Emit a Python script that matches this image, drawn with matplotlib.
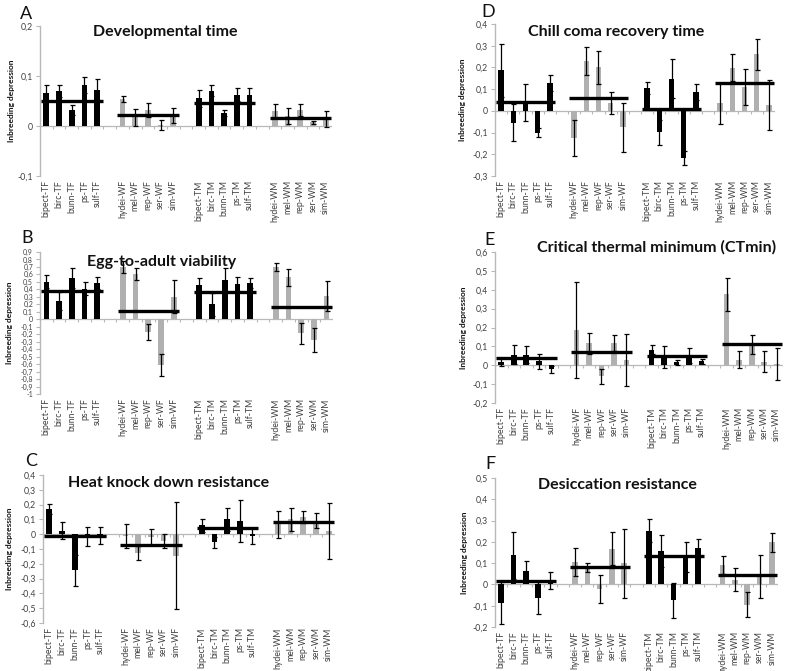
import matplotlib
matplotlib.use('Agg')
import matplotlib.pyplot as plt
from matplotlib.ticker import FuncFormatter, MultipleLocator

plt.rcParams['font.family'] = ['Lato', 'DejaVu Sans']

labels = ['bipect-TF', 'birc-TF', 'bunn-TF', 'ps-TF', 'sulf-TF',
          'hydei-WF', 'mel-WF', 'rep-WF', 'ser-WF', 'sim-WF',
          'bipect-TM', 'birc-TM', 'bunn-TM', 'ps-TM', 'sulf-TM',
          'hydei-WM', 'mel-WM', 'rep-WM', 'ser-WM', 'sim-WM']
groups = ['TF', 'WF', 'TM', 'WM']

A_vals = [0.065, 0.069, 0.032, 0.082, 0.073, 0.054, 0.018, 0.033, 0.002, 0.022,
          0.055, 0.071, 0.027, 0.062, 0.061, 0.030, 0.020, 0.032, 0.008, 0.014]
A_err = [0.016, 0.012, 0.010, 0.016, 0.020, 0.006, 0.017, 0.014, 0.010, 0.015,
         0.016, 0.011, 0.006, 0.013, 0.015, 0.014, 0.016, 0.012, 0.003, 0.016]
A_means = [0.051, 0.022, 0.046, 0.016]

B_vals = [0.50, 0.24, 0.55, 0.41, 0.487, 0.70, 0.60, -0.17, -0.61, 0.30,
          0.46, 0.20, 0.53, 0.474, 0.483, 0.70, 0.56, -0.19, -0.28, 0.31]
B_err = [0.087, 0.12, 0.13, 0.09, 0.083, 0.085, 0.08, 0.11, 0.15, 0.22,
         0.09, 0.15, 0.15, 0.09, 0.07, 0.05, 0.11, 0.14, 0.16, 0.20]
B_means = [0.374, 0.104, 0.365, 0.16]

C_vals = [0.169, 0.025, -0.243, -0.017, -0.007, -0.011, -0.128, -0.018, -0.043, -0.144,
          0.060, -0.056, 0.100, 0.089, -0.009, 0.067, 0.100, 0.117, 0.090, 0.020]
C_err = [0.034, 0.058, 0.105, 0.066, 0.056, 0.080, 0.045, 0.056, 0.047, 0.363,
         0.045, 0.040, 0.080, 0.145, 0.054, 0.092, 0.080, 0.043, 0.050, 0.188]
C_means = [-0.015, -0.074, 0.045, 0.083]

D_vals = [0.186, -0.055, 0.040, -0.100, 0.130, -0.125, 0.230, 0.200, 0.035, -0.075,
          0.106, -0.098, 0.148, -0.217, 0.086, 0.034, 0.199, 0.111, 0.260, 0.029]
D_err = [0.120, 0.085, 0.085, 0.022, 0.037, 0.083, 0.065, 0.077, 0.050, 0.113,
         0.028, 0.057, 0.090, 0.033, 0.038, 0.094, 0.063, 0.083, 0.072, 0.115]
D_means = [0.040, 0.057, 0.008, 0.126]

E_vals = [0.018, 0.055, 0.055, 0.022, -0.022, 0.187, 0.116, -0.058, 0.118, 0.027,
          0.083, 0.045, 0.015, 0.052, 0.020, 0.375, 0.030, 0.110, 0.018, 0.007]
E_err = [0.020, 0.050, 0.045, 0.040, 0.018, 0.253, 0.055, 0.040, 0.040, 0.138,
         0.022, 0.058, 0.012, 0.038, 0.014, 0.089, 0.047, 0.050, 0.055, 0.086]
E_means = [0.036, 0.071, 0.050, 0.112]

F_vals = [-0.087, 0.136, 0.062, -0.064, 0.018, 0.105, 0.080, -0.020, 0.168, 0.099,
          0.253, 0.156, -0.075, 0.130, 0.172, 0.090, 0.023, -0.095, 0.038, 0.198]
F_err = [0.097, 0.110, 0.047, 0.077, 0.040, 0.066, 0.023, 0.065, 0.077, 0.161,
         0.055, 0.074, 0.082, 0.070, 0.042, 0.043, 0.053, 0.058, 0.100, 0.045]
F_means = [0.017, 0.083, 0.134, 0.046]

titles = {'A': 'Developmental time', 'B': 'Egg-to-adult viability',
          'C': 'Heat knock down resistance', 'D': 'Chill coma recovery time',
          'E': 'Critical thermal minimum (CTmin)', 'F': 'Desiccation resistance'}
ylims = {'A': (-0.1, 0.2), 'B': (-1.0, 0.9), 'C': (-0.6, 0.4),
         'D': (-0.3, 0.4), 'E': (-0.2, 0.6), 'F': (-0.2, 0.5)}
data = {'A': (A_vals, A_err, A_means), 'B': (B_vals, B_err, B_means),
        'C': (C_vals, C_err, C_means), 'D': (D_vals, D_err, D_means),
        'E': (E_vals, E_err, E_means), 'F': (F_vals, F_err, F_means)}

W, H = 787, 671
# pixel layout: (left, top, right, bottom)
rects = {'A': (40, 26, 332, 176), 'B': (40, 252, 333, 394), 'C': (43, 475, 335, 623),
         'D': (495, 24, 775, 176), 'E': (495, 252, 783, 403), 'F': (495, 478, 778, 627)}
title_pos = {'A': (165, 32), 'B': (162, 262), 'C': (169, 483),
             'D': (616, 32), 'E': (657, 247), 'F': (617, 485)}
letter_pos = {'A': (26, 14), 'B': (27, 238), 'C': (31, 461),
              'D': (488, 12), 'E': (490, 240), 'F': (490, 464)}
ylab_x = {'A': 12, 'B': 10, 'C': 10, 'D': 463, 'E': 464, 'F': 465}
ytick_size = {'A': 6.3, 'B': 5.0, 'C': 6.3, 'D': 6.3, 'E': 6.3, 'F': 6.3}

BLACK = '#000000'
GRAY = '#b0b0b0'
AXGRAY = '#b8b8b8'
TXT = '#404040'

def fmt(v, pos):
    if abs(v) < 1e-9:
        return '0'
    s = ('%.1f' % v)
    if s.endswith('.0'):
        s = s[:-2]
    return s.replace('.', ',')

fig = plt.figure(figsize=(W / 100, H / 100), dpi=100)
positions = [i + i // 5 for i in range(len(labels))]

for key in ['A', 'B', 'C', 'D', 'E', 'F']:
    l, t, r, b = rects[key]
    ax = fig.add_axes([l / W, 1 - b / H, (r - l) / W, (b - t) / H])
    vals, errs, means = data[key]
    colors = [BLACK if (i // 5) % 2 == 0 else GRAY for i in range(len(labels))]
    ax.bar(positions, vals, width=0.45, color=colors, zorder=2)
    ax.errorbar(positions, vals, yerr=errs, fmt='none', ecolor='black',
                elinewidth=0.9, capsize=1.8, capthick=0.9, zorder=3)
    for g, m in enumerate(means):
        x0 = positions[g * 5] - 0.4
        x1 = positions[g * 5 + 4] + 0.45
        ax.plot([x0, x1], [m, m], color='black', lw=2.4, solid_capstyle='butt', zorder=4)
    ax.axhline(0, color=AXGRAY, lw=0.9, zorder=1)
    y0, y1 = ylims[key]
    tick_len = (y1 - y0) * 0.02
    bounds = [p + 0.5 for p in range(-1, 23)]
    ax.vlines(bounds, -tick_len, 0, color=AXGRAY, lw=0.8, zorder=1)
    ax.set_xlim(-0.5, 22.5)
    ax.set_ylim(y0, y1)
    ax.yaxis.set_major_locator(MultipleLocator(0.1))
    ax.yaxis.set_major_formatter(FuncFormatter(fmt))
    ax.set_xticks(positions)
    ax.set_xticklabels(labels, rotation=90, fontsize=6.3, color=TXT)
    ax.tick_params(axis='x', length=0, pad=3)
    ax.tick_params(axis='y', length=3, width=0.8, color=AXGRAY, labelsize=ytick_size[key],
                   labelcolor=TXT, pad=2)
    for s in ['top', 'right', 'bottom']:
        ax.spines[s].set_visible(False)
    ax.spines['left'].set_color(AXGRAY)
    ax.spines['left'].set_linewidth(1.0)
    ax.patch.set_alpha(0)

    tx, ty = title_pos[key]
    fig.text(tx / W, 1 - ty / H, titles[key], ha='center', va='center',
             fontsize=11.5, fontweight='bold', color='#111111')
    lx, ly = letter_pos[key]
    fig.text(lx / W, 1 - ly / H, key, ha='center', va='center', fontsize=13, color='#111111')
    fig.text(ylab_x[key] / W, 1 - ((t + b) / 2) / H, 'Inbreeding depression',
             rotation=90, ha='center', va='center', fontsize=6, fontweight='bold',
             color='#111111')

fig.savefig('out.png', dpi=100, facecolor='white')
